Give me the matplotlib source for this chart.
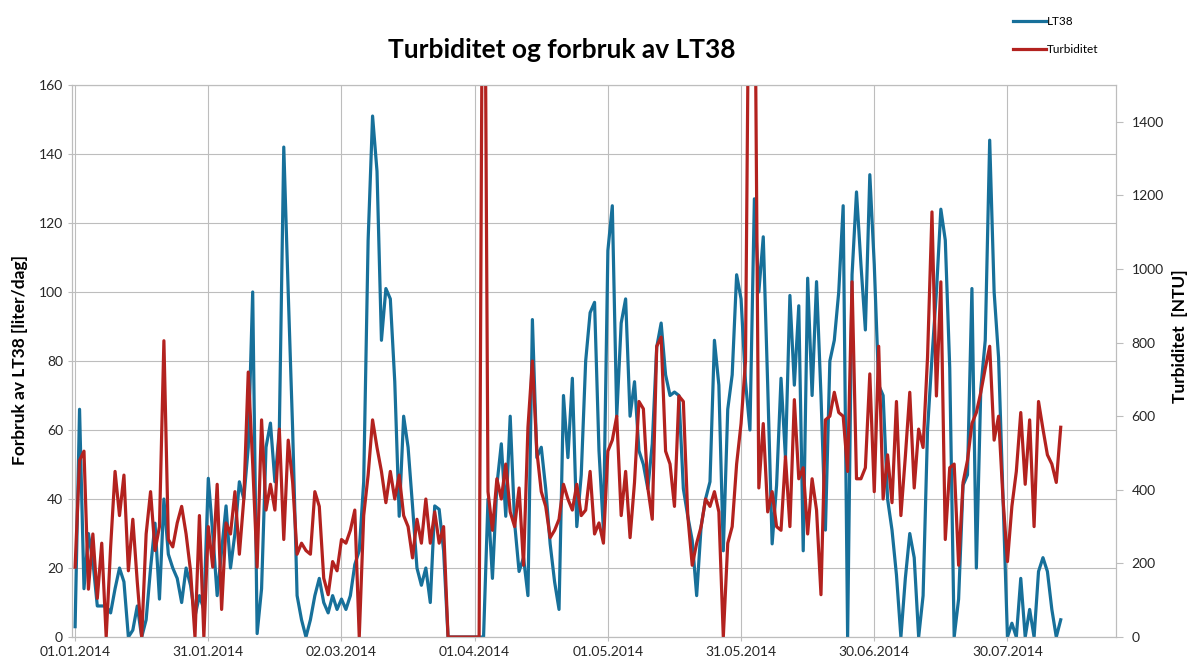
import numpy as np
import pandas as pd
import matplotlib
matplotlib.use("Agg")
import matplotlib.pyplot as plt
import matplotlib.dates as mdates

plt.rcParams['font.family'] = ['Lato', 'DejaVu Sans']

# Daily values from 01.01.2014
start = pd.Timestamp("2014-01-01")

# LT38 consumption [liter/dag]
lt38 = [
    3, 66, 14, 30, 22, 9, 9, 9, 7, 14, 20, 16, 0, 2, 9, 0, 5, 20, 33, 11,
    40, 24, 20, 17, 10, 20, 15, 6, 12, 8, 46,
    30, 12, 25, 38, 20, 30, 45, 40, 55, 100, 1, 14, 55, 62, 45, 60, 142, 100, 60,
    12, 5, 0, 5, 12, 17, 10, 7, 12, 8, 11,
    8, 12, 21, 25, 45, 115, 151, 135, 86, 101, 98, 74, 35, 64, 55, 38, 20, 15, 20,
    10, 38, 37, 25, 0, 0, 0, 0, 0, 0, 0, 0,
    0, 40, 17, 44, 56, 35, 64, 33, 19, 23, 12, 92, 52, 55, 43, 27, 16, 8, 70, 52,
    75, 32, 47, 80, 94, 97, 54, 31, 112, 125, 64, 91, 98, 64, 74, 54, 50, 43, 56, 84,
    91, 76, 70, 71, 70, 43, 35, 28, 12, 32, 40, 45, 86, 73, 25, 66, 76, 105, 98, 74,
    60, 127,
    100, 116, 73, 27, 44, 75, 52, 99, 73, 96, 25, 104, 70, 103, 70, 31, 80, 86, 100, 125,
    0, 105, 129, 108, 89, 134, 108, 73, 70, 40, 31, 18, 0, 17, 30, 23, 0, 12, 60, 81,
    100, 124, 115, 78, 0, 11, 44, 47, 101, 20, 72, 86, 144, 100, 81, 40, 0, 4, 0, 17,
    0, 8, 0, 19, 23, 19, 8, 0, 5,
]

# Turbiditet [NTU]
turbiditet = [
    190, 480, 505, 130, 280, 105, 255, 0, 245, 450, 330, 440, 180, 320, 150, 0, 280, 395, 235, 300,
    805, 265, 245, 310, 355, 280, 180, 0, 330, 0, 300,
    190, 415, 75, 310, 280, 395, 225, 375, 720, 470, 190, 590, 345, 415, 345, 565, 265, 535, 420,
    225, 255, 235, 225, 395, 355, 160, 115, 205, 180, 265,
    255, 290, 345, 0, 330, 440, 590, 515, 450, 365, 450, 375, 440, 330, 300, 215, 320, 255, 375,
    255, 340, 255, 300, 0, 0, 0, 0, 0, 0, 0, 0,
    2500,
    395, 290, 430, 375, 470, 340, 300, 405, 195, 570, 750, 505, 395, 355, 270, 290, 320, 415, 375, 345,
    415, 330, 345, 450, 280, 310, 255, 505, 535, 600, 330, 450, 270, 420, 640, 620, 405, 320, 790, 815,
    505, 470, 355, 655, 640, 330, 195, 255, 300, 375, 355, 395, 340, 0, 255, 300, 470, 580, 750,
    2200, 2000,
    405, 580, 340, 395, 300, 290, 490, 300, 645, 430, 460, 280, 430, 345, 115, 590, 600, 665, 610, 600,
    450, 965, 430, 430, 460, 715, 395, 790, 375, 495, 365, 640, 330, 490, 665, 405, 565, 515, 760, 1155,
    655, 965, 265, 460, 470, 195, 420, 480, 580, 610, 665, 730, 790, 535, 600, 375, 205, 355, 450, 610,
    415, 590, 300, 640, 565, 495, 470, 420, 570,
]

dates = pd.date_range(start, periods=len(lt38), freq="D")
tick_dates = pd.date_range(start, periods=8, freq="30D")

blue = "#17709a"
red = "#b3221f"
grid_c = "#bdbdbd"
txt_c = "#262626"

fig = plt.figure(figsize=(11.9, 6.66), dpi=100)
ax = fig.add_axes([0.0605, 0.0435, 0.8775, 0.8289])
ax2 = ax.twinx()

l1, = ax.plot(dates, lt38, color=blue, lw=2.3, label="LT38")
l2, = ax2.plot(dates, turbiditet, color=red, lw=2.3, label="Turbiditet")

ax.set_ylim(0, 160)
ax.set_yticks(np.arange(0, 161, 20))
ax2.set_ylim(0, 1500)
ax2.set_yticks(np.arange(0, 1401, 200))

ax.set_xlim(start - pd.Timedelta(days=0.7), start + pd.Timedelta(days=234.5))
ax.set_xticks(tick_dates)
ax.xaxis.set_major_formatter(mdates.DateFormatter("%d.%m.%Y"))

ax.grid(True, color=grid_c, lw=0.8)
ax.set_axisbelow(True)
for a in (ax, ax2):
    for s in a.spines.values():
        s.set_color(grid_c)
        s.set_linewidth(0.8)
ax.tick_params(axis="both", labelsize=10, colors=txt_c, length=3, color=grid_c)
ax2.tick_params(axis="y", labelsize=10, colors=txt_c, length=5, color=grid_c, pad=6)

fig.text(562 / 1190, 1 - 50 / 666, "Turbiditet og forbruk av LT38",
         ha="center", va="center", fontsize=19, weight="bold", color="black")
fig.text(20 / 1190, 1 - 360 / 666, "Forbruk av LT38 [liter/dag]", rotation=90,
         ha="center", va="center", fontsize=12.5, weight="bold", color="black")
fig.text(1180 / 1190, 1 - 336 / 666, "Turbiditet  [NTU]", rotation=90,
         ha="center", va="center", fontsize=12.5, weight="bold", color="black")

fig.legend([l1, l2], ["LT38", "Turbiditet"], loc="upper left",
           bbox_to_anchor=(1008 / 1190, 1 - 11 / 666), frameon=False, fontsize=8.5,
           handlelength=2.8, handletextpad=0.1, labelspacing=1.5, borderaxespad=0)

fig.savefig("out.png", dpi=100)
